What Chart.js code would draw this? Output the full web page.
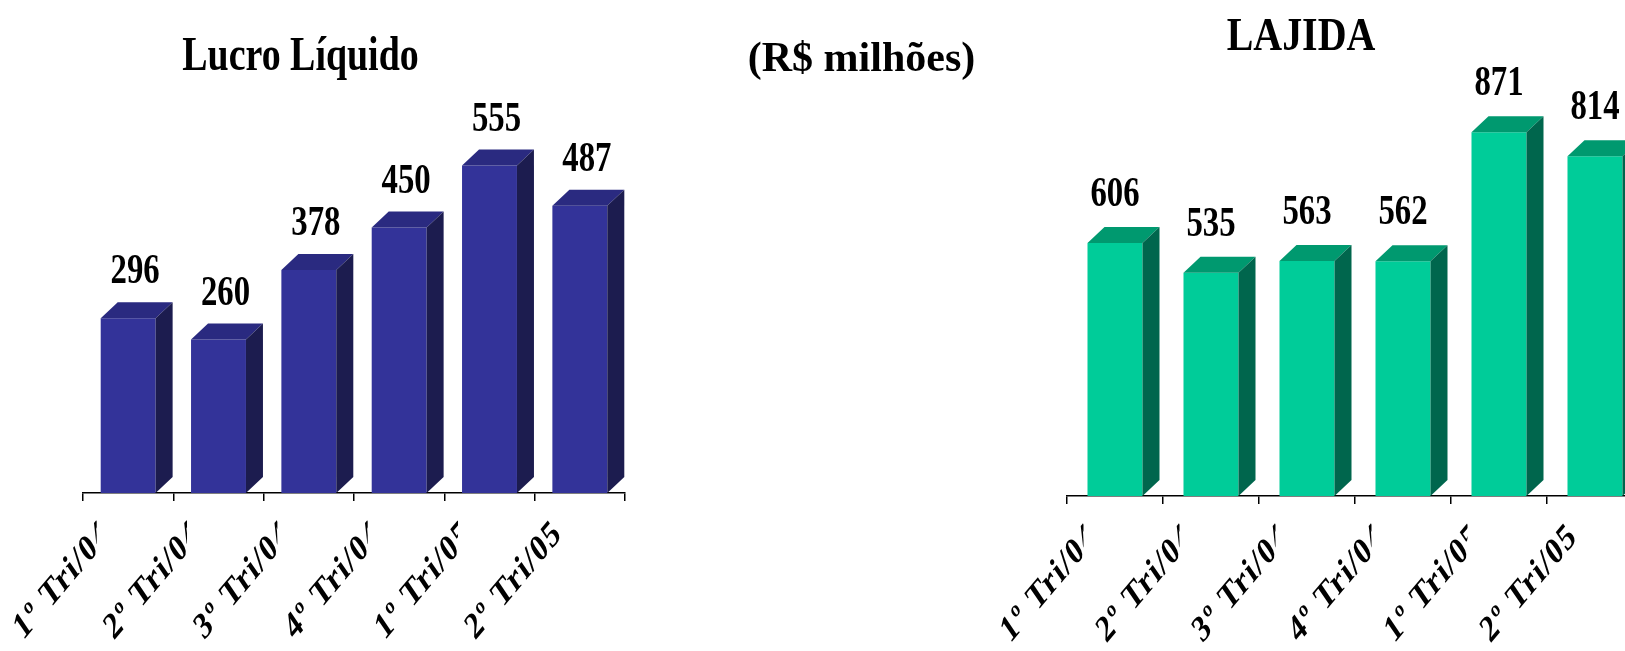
<!DOCTYPE html>
<html>
<head>
<meta charset="utf-8">
<script src="https://cdn.jsdelivr.net/npm/chart.js@4.4.1/dist/chart.umd.min.js"></script>
<style>
  html, body { margin: 0; padding: 0; background: #ffffff; overflow: hidden; width: 1625px; height: 651px; }
  #wrap { position: relative; width: 1625px; height: 651px; overflow: hidden; }
  .box { position: absolute; top: 0; height: 651px; }
  #boxL { left: 0; width: 1000px; }
  #boxR { left: 900px; width: 800px; }
</style>
</head>
<body>
<div id="wrap">
  <div class="box" id="boxL"><canvas id="lucro"></canvas></div>
  <div class="box" id="boxR"><canvas id="lajida"></canvas></div>
</div>
<script>
// Quarterly results, R$ millions
const quarters = ['1º Tri/04', '2º Tri/04', '3º Tri/04', '4º Tri/04', '1º Tri/05', '2º Tri/05'];
const lucroLiquido = [296, 260, 378, 450, 555, 487];
const lajida = [606, 535, 563, 562, 871, 814];

const SERIF = '"Liberation Serif", "Times New Roman", serif';

// Draws bold serif text, optionally condensed horizontally, rotated and clipped.
function drawText(ctx, text, x, y, o) {
  ctx.save();
  if (o.clipX !== undefined) {
    ctx.beginPath();
    ctx.rect(-10000, -10000, 10000 + o.clipX, 20000);
    ctx.clip();
  }
  ctx.translate(x, y);
  ctx.scale(o.sx || 1, 1);
  if (o.rot) ctx.rotate(-o.rot * Math.PI / 180);
  ctx.font = 'bold ' + o.size + 'px ' + SERIF;
  if (o.spacing && 'letterSpacing' in ctx) ctx.letterSpacing = o.spacing + 'px';
  ctx.fillStyle = '#000000';
  ctx.textAlign = o.align || 'center';
  ctx.textBaseline = o.baseline || 'alphabetic';
  ctx.fillText(text, 0, 0);
  ctx.restore();
}

// Adds the top and side faces to every bar, then the value and quarter labels.
function boxPlugin(cfg) {
  return {
    id: 'box3d',
    afterDatasetsDraw(chart) {
      const ctx = chart.ctx;
      const meta = chart.getDatasetMeta(0);
      const values = chart.data.datasets[0].data;
      const dx = cfg.depthX, dy = cfg.depthY;
      meta.data.forEach((bar, i) => {
        const p = bar.getProps(['x', 'y', 'base', 'width'], true);
        const xl = p.x - p.width / 2, xr = p.x + p.width / 2;
        ctx.save();
        // top face
        ctx.beginPath();
        ctx.moveTo(xl, p.y);
        ctx.lineTo(xl + dx, p.y - dy);
        ctx.lineTo(xr + dx, p.y - dy);
        ctx.lineTo(xr, p.y);
        ctx.closePath();
        ctx.fillStyle = cfg.top;
        ctx.fill();
        // side face
        ctx.beginPath();
        ctx.moveTo(xr, p.y);
        ctx.lineTo(xr + dx, p.y - dy);
        ctx.lineTo(xr + dx, p.base - dy);
        ctx.lineTo(xr, p.base);
        ctx.closePath();
        ctx.fillStyle = cfg.side;
        ctx.fill();
        ctx.restore();
        // value above the box
        drawText(ctx, String(values[i]), p.x + cfg.labelShift, p.y - dy - cfg.labelGap,
          { size: 42, sx: 0.78 });
      });
      // quarter labels under the axis, each cut off just before its bar's front edge
      const xs = chart.scales.x;
      const n = chart.data.labels.length;
      chart.data.labels.forEach((lab, i) => {
        const cx = xs.getPixelForValue(i);
        const half = meta.data[i].width / 2;
        drawText(ctx, lab, cx - 31, xs.top + 21, {
          size: 38, sx: 0.755, rot: 42, spacing: 2, align: 'right', baseline: 'top',
          clipX: i < n - 1 ? cx - half - 4 : undefined
        });
      });
      (cfg.texts || []).forEach(t => drawText(ctx, t.text, t.x, t.y, t));
    }
  };
}

function makeChart(id, values, cfg) {
  return new Chart(document.getElementById(id), {
    type: 'bar',
    data: {
      labels: quarters,
      datasets: [{
        data: values,
        backgroundColor: cfg.front,
        borderWidth: 0,
        barPercentage: 1,
        categoryPercentage: cfg.catPct
      }]
    },
    options: {
      responsive: true,
      maintainAspectRatio: false,
      animation: false,
      events: [],
      layout: { padding: cfg.padding },
      plugins: { legend: { display: false }, tooltip: { enabled: false }, title: { display: false } },
      scales: {
        x: {
          offset: true,
          ticks: { display: false },
          grid: {
            offset: true,
            drawOnChartArea: false,
            drawTicks: true,
            tickLength: 8,
            color: '#000000',
            lineWidth: 1.5
          },
          border: { display: true, color: '#000000', width: 1.5 },
          afterFit(scale) { scale.height = 8; }
        },
        y: {
          display: false,
          min: 0,
          max: cfg.max
        }
      }
    },
    plugins: [boxPlugin(cfg)]
  });
}

makeChart('lucro', lucroLiquido, {
  front: '#333399', top: '#2a2a80', side: '#1c1c4f',
  catPct: 0.608, max: 750,
  padding: { left: 83, right: 375, top: 50.5, bottom: 150 },
  depthX: 17, depthY: 16, labelShift: 7, labelGap: 19,
  texts: [
    { text: 'Lucro Líquido', x: 300.5, y: 70, size: 48, sx: 0.79 },
    { text: '(R$ milhões)', x: 861.5, y: 71, size: 42, sx: 1 }
  ]
});

makeChart('lajida', lajida, {
  front: '#00cc99', top: '#00996f', side: '#00664d',
  catPct: 0.573, max: 1000,
  padding: { left: 167, right: 57, top: 78.5, bottom: 147 },
  depthX: 17, depthY: 16, labelShift: 0, labelGap: 21,
  texts: [
    { text: 'LAJIDA', x: 1301 - 900, y: 50, size: 47, sx: 0.85 }
  ]
});
</script>
</body>
</html>
